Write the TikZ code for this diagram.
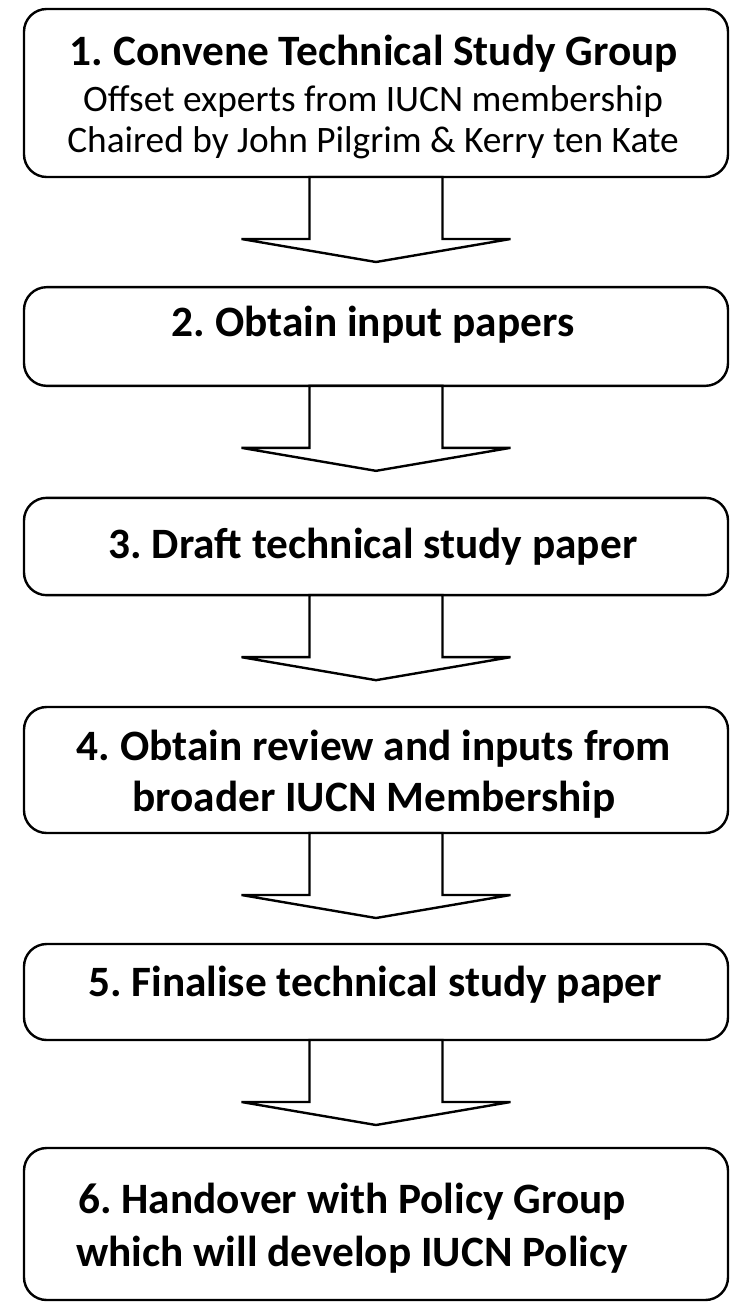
\documentclass[tikz,border=0pt]{standalone}
\usepackage{fontspec}
\setmainfont{Carlito}
\usetikzlibrary{positioning}
\frenchspacing

\begin{document}
\begin{tikzpicture}[x=0.75pt,y=-0.75pt,
    stagebox/.style={draw=boxline, line width=1.8pt, rounded corners=17pt, fill=white,
        minimum width=528pt, inner sep=0pt, outer sep=0pt},
    stagetitle/.style={font=\fontsize{32.5}{38.5}\selectfont\bfseries, align=center, text=black},
    stagenote/.style={font=\fontsize{28}{30.5}\selectfont, align=center, text=black},
    flowarrow/.style={draw=boxline, line width=1.8pt, fill=white, line join=miter}]
    % Цвета
    \definecolor{boxline}{RGB}{0,0,0}

    \useasboundingbox (0,0) rectangle (734,1303);

    % Блоки
    \node[stagebox, minimum height=126pt] (box1) at (376,93) {};
    \node[stagebox, minimum height=74pt] (box2) at (376,336.5) {};
    \node[stagebox, minimum height=73pt] (box3) at (376,546.5) {};
    \node[stagebox, minimum height=94.5pt] (box4) at (376,770) {};
    \node[stagebox, minimum height=72pt] (box5) at (376,992) {};
    \node[stagebox, minimum height=114pt] (box6) at (376,1224) {};

    % Текст
    \node[stagetitle] (title1) at (374,54) {1. Convene Technical Study Group};
    \node[stagenote] (note1) at (373,122) {Offset experts from IUCN membership\\Chaired by John Pilgrim \& Kerry ten Kate};
    \node[stagetitle] (title2) at (373,325) {2. Obtain input papers};
    \node[stagetitle] (title3) at (373,547) {3. Draft technical study paper};
    \node[stagetitle] (title4) at (374,774) {4. Obtain review and inputs from\\broader IUCN Membership};
    \node[stagetitle] (title5) at (375,985) {5. Finalise technical study paper};
    \node[stagetitle, text depth=0pt] (title6) at (352,1225) {6. Handover with Policy Group\\[1.5pt]which will develop IUCN Policy};

    % Стрелки
    \foreach \a in {1,...,5} {
        \draw[flowarrow] (box\a.south) ++(-66.5,0) -- ++(0,62) -- ++(-68,0)
            -- ++(134.5,23) -- ++(134.5,-23) -- ++(-68,0) -- ++(0,-62) -- cycle;
    }
\end{tikzpicture}
\end{document}
